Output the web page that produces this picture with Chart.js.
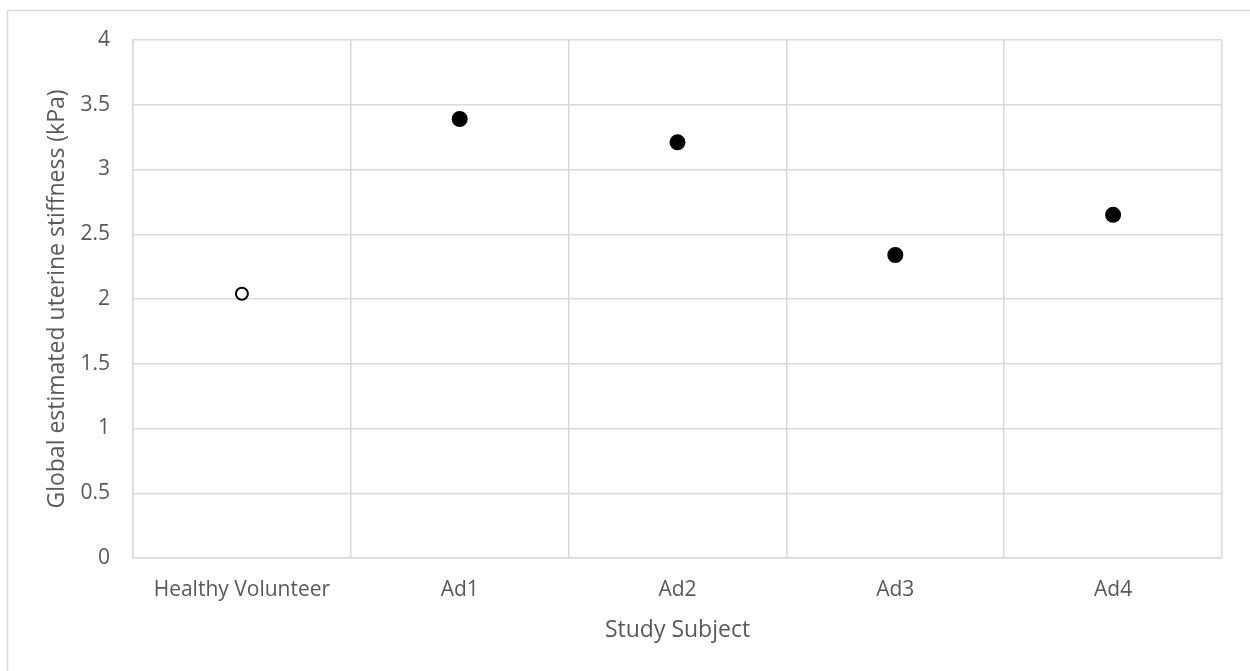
<!DOCTYPE html>
<html>
<head>
<meta charset="utf-8">
<script src="https://cdn.jsdelivr.net/npm/chart.js"></script>
<style>
  html, body { margin: 0; padding: 0; background: #ffffff; }
  #wrap { width: 1250px; height: 671px; }
</style>
</head>
<body>
<div id="wrap"><canvas id="chart" width="1250" height="671"></canvas></div>
<script>
// chart data
const subjects = ["Healthy Volunteer", "Ad1", "Ad2", "Ad3", "Ad4"];
const stiffness = [2.04, 3.39, 3.21, 2.34, 2.65];
const markerFill = ["#ffffff", "#000000", "#000000", "#000000", "#000000"];
const markerSize = [6, 7, 7, 7, 7];
const yTicks = [0, 0.5, 1, 1.5, 2, 2.5, 3, 3.5, 4];

const FONT = "'Open Sans', sans-serif";
const TEXT = "#595959";
const GRID = "#d9d9d9";

// outer frame like the office chart border
const framePlugin = {
    id: "frame",
    beforeDraw(chart) {
        const ctx = chart.ctx;
        ctx.save();
        ctx.fillStyle = "#ffffff";
        ctx.fillRect(0, 0, chart.width, chart.height);
        ctx.strokeStyle = GRID;
        ctx.lineWidth = 1.5;
        ctx.strokeRect(7.5, 10.5, 1400, 800);
        ctx.restore();
    }
};

new Chart(document.getElementById("chart").getContext("2d"), {
    type: "line",
    data: {
        labels: subjects,
        datasets: [{
            data: stiffness,
            showLine: false,
            pointBackgroundColor: markerFill,
            pointBorderColor: "#000000",
            pointBorderWidth: 2,
            pointRadius: markerSize,
            pointHoverRadius: markerSize,
        }],
    },
    plugins: [framePlugin],
    options: {
        responsive: false,
        animation: false,
        layout: {
            padding: { top: 40, right: 28, bottom: 0, left: 0 }
        },
        plugins: {
            legend: { display: false },
            tooltip: { enabled: false },
        },
        scales: {
            x: {
                type: "category",
                offset: true,
                grid: { color: GRID, lineWidth: 1.5, offset: true, drawTicks: false },
                border: { color: GRID, width: 1.5 },
                ticks: { color: TEXT, font: { family: FONT, size: 21 }, padding: 19, maxRotation: 0 },
                title: {
                    display: true,
                    text: "Study Subject",
                    color: TEXT,
                    font: { family: FONT, size: 23 },
                    padding: { top: 0, bottom: 27 },
                },
                afterFit(scale) { scale.height = 113; },
            },
            y: {
                min: 0,
                max: 4,
                afterBuildTicks(scale) { scale.ticks = yTicks.map(v => ({ value: v })); },
                grid: { color: GRID, lineWidth: 1.5, drawTicks: false },
                border: { color: GRID, width: 1.5 },
                ticks: {
                    color: TEXT,
                    font: { family: FONT, size: 21 },
                    padding: 23,
                    callback: (value) => String(value),
                },
                title: {
                    display: true,
                    text: "Global estimated uterine stiffness (kPa)",
                    color: TEXT,
                    font: { family: FONT, size: 23 },
                    padding: { top: 44, bottom: 0 },
                },
                afterFit(scale) { scale.width = 133; },
            },
        },
    },
});
</script>
</body>
</html>
